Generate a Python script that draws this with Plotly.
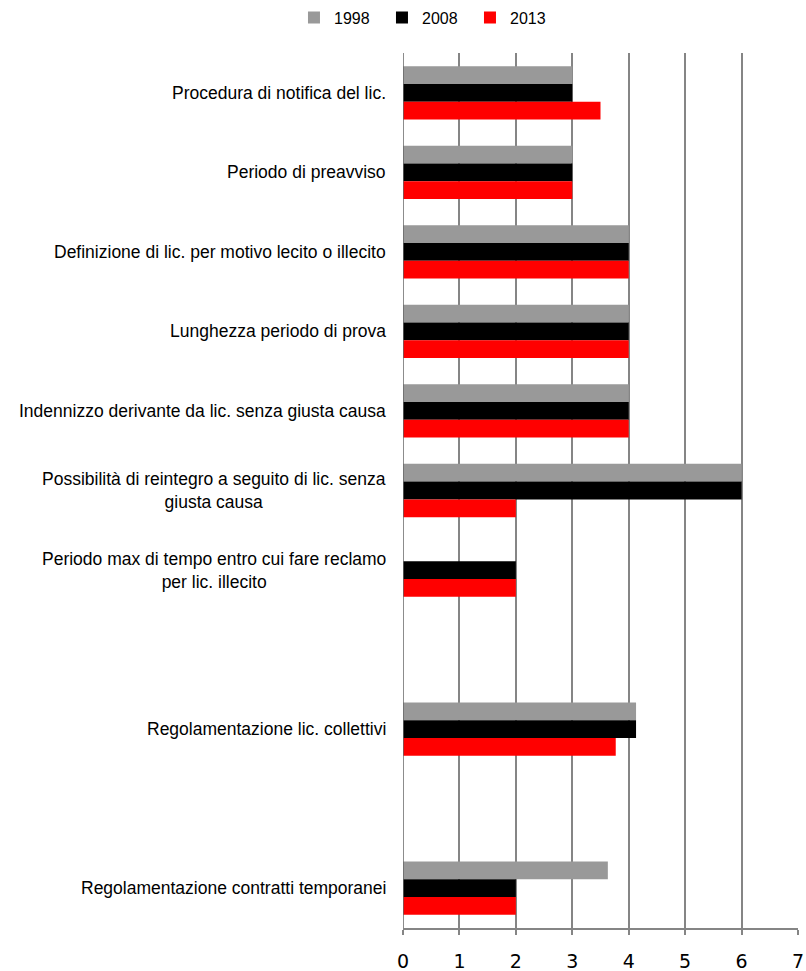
import plotly.graph_objects as go

categories = [
    "Procedura di notifica del lic.",
    "Periodo di preavviso",
    "Definizione di lic. per motivo lecito o illecito",
    "Lunghezza periodo di prova",
    "Indennizzo derivante da lic. senza giusta causa",
    "Possibilità di reintegro a seguito di lic. senza<br>giusta causa",
    "Periodo max di tempo entro cui fare reclamo<br>per lic. illecito",
    "",
    "Regolamentazione lic. collettivi",
    "",
    "Regolamentazione contratti temporanei",
]
v1998 = [3, 3, 4, 4, 4, 6, None, None, 4.13, None, 3.63]
v2008 = [3, 3, 4, 4, 4, 6, 2, None, 4.13, None, 2]
v2013 = [3.5, 3, 4, 4, 4, 2, 2, None, 3.77, None, 2]
series_names = ["1998", "2008", "2013"]
colors = ["#999999", "#000000", "#ff0000"]

ypos = list(range(len(categories)))

fig = go.Figure()
for name, vals, col in zip(series_names, [v1998, v2008, v2013], colors):
    fig.add_trace(go.Bar(y=ypos, x=vals, name=name, orientation="h",
                         marker=dict(color=col, line=dict(width=0))))

for i, c in enumerate(categories):
    if c:
        fig.add_annotation(x=-0.038, xref="paper", y=i, yref="y", text=c,
                           showarrow=False, xanchor="right", align="center",
                           font=dict(family="Liberation Sans, Arial", size=17.5, color="#000"))

fig.update_layout(
    width=806, height=971,
    margin=dict(l=403, r=8, t=53, b=43, autoexpand=False),
    paper_bgcolor="white", plot_bgcolor="white",
    barmode="group", bargap=0.33, bargroupgap=0,
    showlegend=True,
    legend=dict(orientation="h", x=-0.276, xanchor="left",
                y=1 - 17.5 / 971, yanchor="middle", yref="container",
                font=dict(family="Liberation Sans, Arial", size=16, color="#000"),
                traceorder="normal", entrywidth=43, itemwidth=30,
                bgcolor="rgba(0,0,0,0)"),
    xaxis=dict(range=[0, 7], dtick=1, tick0=0, showgrid=True, gridcolor="#858585", gridwidth=1.5,
               showline=True, linecolor="#858585", linewidth=1.5, ticks="outside", ticklen=5,
               tickcolor="#858585", tickwidth=1.5, zeroline=False, ticklabelstandoff=10,
               tickfont=dict(family="DejaVu Sans, Verdana", size=19, color="#000")),
    yaxis=dict(range=[len(categories) - 0.5, -0.5], showticklabels=False, showgrid=False,
               zeroline=False, showline=False, ticks=""),
)
fig.add_shape(type="line", xref="x", yref="paper", x0=0, x1=0, y0=0, y1=1,
              line=dict(color="#666666", width=1.5))
fig.write_html("out.html", config={"displayModeBar": False},
               post_script="document.body.style.margin='0';document.body.style.overflow='hidden';")
